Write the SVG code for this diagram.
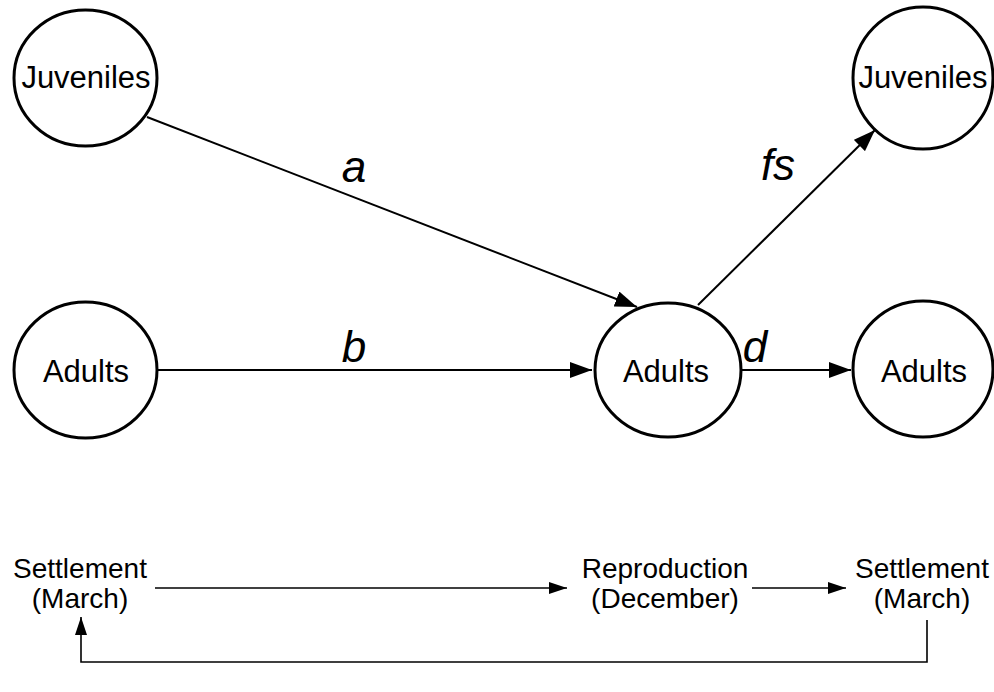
<svg xmlns="http://www.w3.org/2000/svg" width="994" height="692" viewBox="0 0 994 692">
<defs>
<style>
.node{fill:#fff;stroke:#000;stroke-width:3}
.t{font-family:"Liberation Sans",Arial,sans-serif;font-size:31px;text-anchor:middle;fill:#000}
.lab{font-family:"Liberation Sans",Arial,sans-serif;font-size:44px;font-style:italic;text-anchor:middle;fill:#000}
.s{font-family:"Liberation Sans",Arial,sans-serif;font-size:28px;text-anchor:middle;fill:#000}
.c{stroke:#000;stroke-width:2;fill:none}
.c2{stroke:#000;stroke-width:1.6;fill:none}
</style>
<marker id="ah" markerUnits="userSpaceOnUse" markerWidth="22" markerHeight="16" refX="22" refY="8" orient="auto">
<path d="M0,0 L22,8 L0,16 Z" fill="#000"/>
</marker>
<marker id="ah2" markerUnits="userSpaceOnUse" markerWidth="18" markerHeight="12" refX="18" refY="6" orient="auto">
<path d="M0,0 L18,6 L0,12 Z" fill="#000"/>
</marker>
</defs>
<rect width="994" height="692" fill="#fff"/>
<g id="connectors">
<line class="c" x1="147" y1="117" x2="637" y2="307" marker-end="url(#ah)"/>
<line class="c" x1="158" y1="370" x2="592" y2="370" marker-end="url(#ah)"/>
<line class="c" x1="698" y1="305" x2="875" y2="130" marker-end="url(#ah)"/>
<line class="c" x1="742" y1="370" x2="851" y2="370" marker-end="url(#ah)"/>
<line class="c2" x1="155" y1="588" x2="567" y2="588" marker-end="url(#ah2)"/>
<line class="c2" x1="752" y1="588" x2="846" y2="588" marker-end="url(#ah2)"/>
<polyline class="c2" points="927,620 927,662 81,662 81,617" marker-end="url(#ah2)"/>
</g>
<g id="juv1"><ellipse class="node" cx="85.5" cy="78" rx="71.5" ry="68"/><text class="t" x="86" y="88">Juveniles</text></g>
<g id="adult1"><ellipse class="node" cx="85.5" cy="370" rx="71.5" ry="68"/><text class="t" x="86" y="382">Adults</text></g>
<g id="adult2"><ellipse class="node" cx="668" cy="370" rx="73" ry="67"/><text class="t" x="666" y="382">Adults</text></g>
<g id="juv2"><ellipse class="node" cx="923" cy="78" rx="70" ry="71"/><text class="t" x="923" y="88">Juveniles</text></g>
<g id="adult3"><ellipse class="node" cx="923" cy="369" rx="70" ry="68"/><text class="t" x="924" y="382">Adults</text></g>
<g id="labels">
<text class="lab" x="354" y="182">a</text>
<text class="lab" x="354" y="362">b</text>
<text class="lab" x="778" y="180">fs</text>
<text class="lab" x="755" y="362">d</text>
</g>
<g id="timeline">
<text class="s" x="80" y="578">Settlement</text>
<text class="s" x="80" y="608">(March)</text>
<text class="s" x="665" y="578">Reproduction</text>
<text class="s" x="665" y="608">(December)</text>
<text class="s" x="922" y="578">Settlement</text>
<text class="s" x="922" y="608">(March)</text>
</g>
</svg>
